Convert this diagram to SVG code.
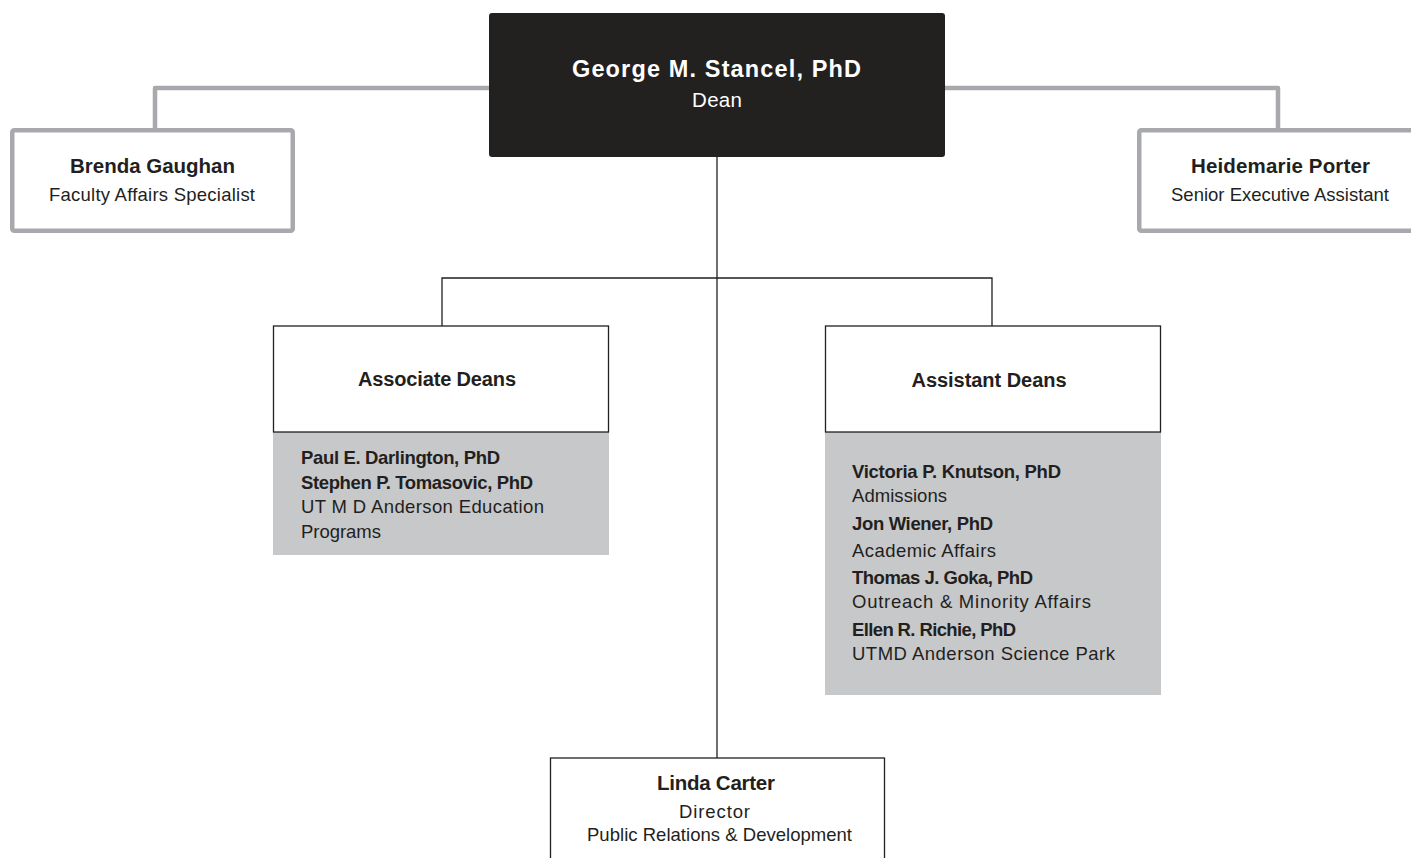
<svg xmlns="http://www.w3.org/2000/svg" width="1411" height="858" viewBox="0 0 1411 858">
<style>
text{font-family:"Liberation Sans",Arial,sans-serif;fill:#231f20}
.b{font-weight:bold}
.c{text-anchor:middle}
.w{fill:#ffffff}
.gl{fill:none;stroke:#a7a9ac;stroke-width:4.5;stroke-linejoin:round}
.tl{fill:none;stroke:#231f20;stroke-width:1.3}
.gbox{fill:#ffffff;stroke:#a7a9ac;stroke-width:4.5}
.tbox{fill:#ffffff;stroke:#231f20;stroke-width:1.3}
.fill{fill:#c7c8ca}
</style>
<rect width="1411" height="858" fill="#ffffff"/>
<g id="connectors">
<polyline class="gl" points="490,88 155,88 155,129"/>
<polyline class="gl" points="944,88 1278,88 1278,129"/>
<line class="tl" x1="717" y1="157" x2="717" y2="758"/>
<polyline class="tl" points="442,326 442,278 992,278 992,326"/>
</g>
<g id="dean">
<rect x="489" y="13" width="456" height="144" rx="3" fill="#222120"/>
<text class="b c w" x="716.5" y="77" font-size="23.5" textLength="289" lengthAdjust="spacing">George M. Stancel, PhD</text>
<text class="c w" x="717" y="107" font-size="20.5" textLength="50" lengthAdjust="spacing">Dean</text>
</g>
<g id="brenda">
<rect class="gbox" x="12.25" y="130.25" width="280.5" height="100.5" rx="2"/>
<text class="b c" x="152.5" y="173" font-size="20.5" textLength="165" lengthAdjust="spacing">Brenda Gaughan</text>
<text class="c" x="152" y="201" font-size="18.5" textLength="206" lengthAdjust="spacing">Faculty Affairs Specialist</text>
</g>
<g id="heidemarie">
<rect class="gbox" x="1139.25" y="130.25" width="285" height="100.5" rx="2"/>
<text class="b c" x="1280.5" y="173" font-size="20.5" textLength="179" lengthAdjust="spacing">Heidemarie Porter</text>
<text class="c" x="1280" y="201" font-size="18.5" textLength="218" lengthAdjust="spacing">Senior Executive Assistant</text>
</g>
<g id="associate">
<rect class="fill" x="273" y="432" width="336" height="123"/>
<rect class="tbox" x="273.5" y="326" width="335" height="106"/>
<text class="b c" x="437" y="386" font-size="20" textLength="158" lengthAdjust="spacing">Associate Deans</text>
<text class="b" x="301" y="464" font-size="18.5" textLength="199" lengthAdjust="spacing">Paul E. Darlington, PhD</text>
<text class="b" x="301" y="489" font-size="18.5" textLength="232" lengthAdjust="spacing">Stephen P. Tomasovic, PhD</text>
<text x="301" y="513" font-size="18.5" textLength="243" lengthAdjust="spacing">UT M D Anderson Education</text>
<text x="301" y="538" font-size="18.5" textLength="80" lengthAdjust="spacing">Programs</text>
</g>
<g id="assistant">
<rect class="fill" x="825" y="432" width="336" height="263"/>
<rect class="tbox" x="825.5" y="326" width="335" height="106"/>
<text class="b c" x="989" y="387" font-size="20" textLength="155" lengthAdjust="spacing">Assistant Deans</text>
<text class="b" x="852" y="478" font-size="18.5" textLength="209" lengthAdjust="spacing">Victoria P. Knutson, PhD</text>
<text x="852" y="502" font-size="18.5" textLength="95" lengthAdjust="spacing">Admissions</text>
<text class="b" x="852" y="530" font-size="18.5" textLength="141" lengthAdjust="spacing">Jon Wiener, PhD</text>
<text x="852" y="557" font-size="18.5" textLength="144" lengthAdjust="spacing">Academic  Affairs</text>
<text class="b" x="852" y="584" font-size="18.5" textLength="181" lengthAdjust="spacing">Thomas J. Goka, PhD</text>
<text x="852" y="608" font-size="18.5" textLength="239" lengthAdjust="spacing">Outreach &amp; Minority Affairs</text>
<text class="b" x="852" y="636" font-size="18.5" textLength="164" lengthAdjust="spacing">Ellen R. Richie, PhD</text>
<text x="852" y="660" font-size="18.5" textLength="263" lengthAdjust="spacing">UTMD Anderson Science Park</text>
</g>
<g id="linda">
<rect class="tbox" x="550.5" y="758" width="334" height="120"/>
<text class="b c" x="716" y="790" font-size="20.5" textLength="118" lengthAdjust="spacing">Linda Carter</text>
<text class="c" x="714.5" y="818" font-size="18.5" textLength="71" lengthAdjust="spacing">Director</text>
<text class="c" x="719.5" y="841" font-size="18.5" textLength="265" lengthAdjust="spacing">Public Relations &amp; Development</text>
</g>
</svg>
